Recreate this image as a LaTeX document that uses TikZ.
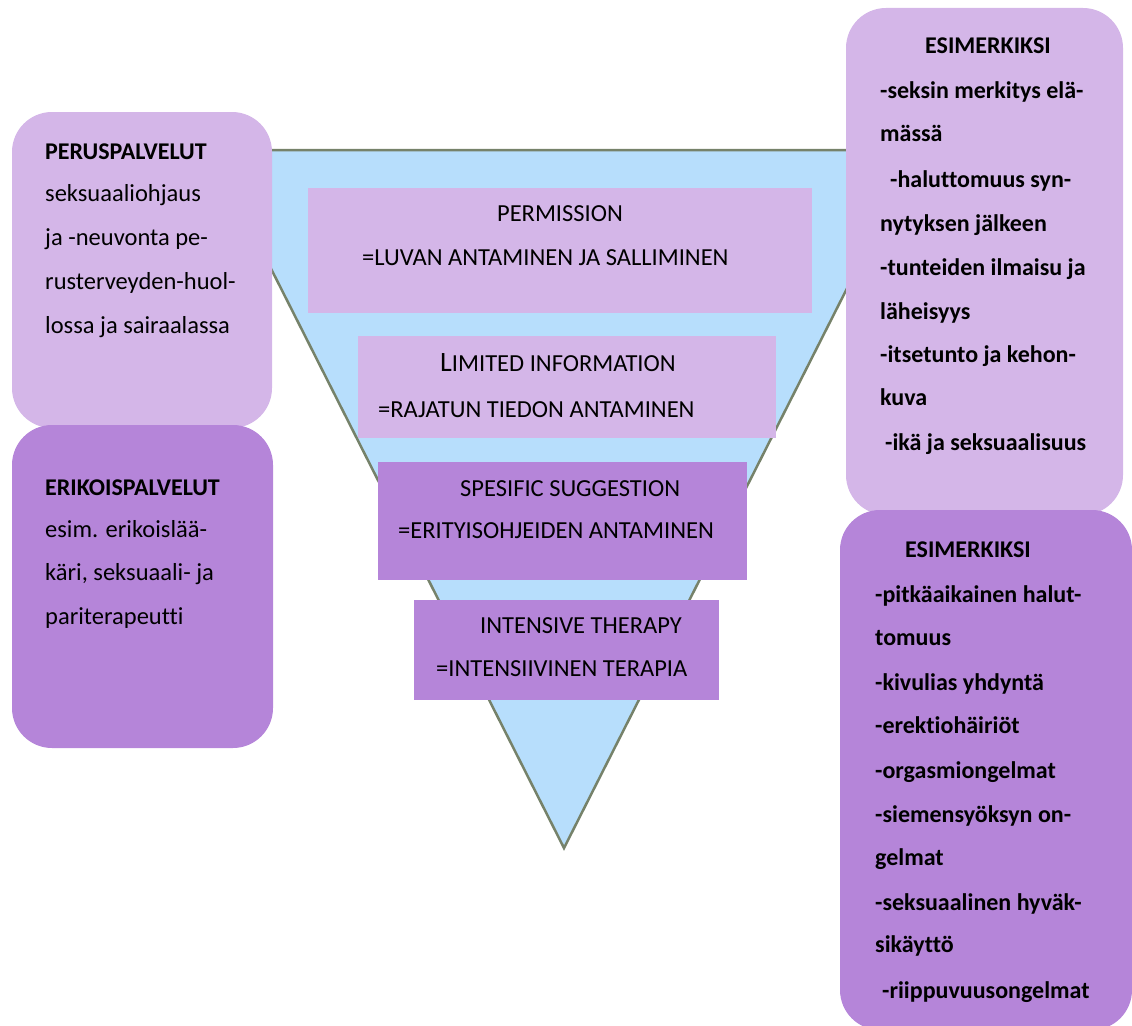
\documentclass[tikz,border=0pt]{standalone}
\usepackage{fontspec}
\setmainfont{Carlito}[Ligatures=NoCommon]
\definecolor{tri}{HTML}{B7DEFC}
\definecolor{triedge}{HTML}{76826A}
\definecolor{lav}{HTML}{D4B6E8}
\definecolor{purp}{HTML}{B585D9}
\tikzset{
  sidebox/.style={rounded corners=40pt, inner sep=0, draw=none},
  midbox/.style={inner sep=0, draw=none},
  txt/.style={anchor=base west, inner sep=0, font=\fontsize{24.5}{28}\selectfont},
  txtb/.style={anchor=base west, inner sep=0, font=\fontsize{24}{28}\selectfont\bfseries},
  ctxt/.style={anchor=base, inner sep=0, font=\fontsize{24.5}{28}\selectfont},
}
\begin{document}
\begin{tikzpicture}[x=1pt,y=-1pt]
\useasboundingbox (0,0) rectangle (1132,1025);
% funnel triangle
\coordinate (tl) at (211,150);
\coordinate (tr) at (917,150);
\coordinate (ap) at (564,848);
\draw[triedge, fill=tri, line width=2.5pt, line join=miter] (tl) -- (tr) -- (ap) -- cycle;
% side boxes
\node[sidebox, fill=lav, minimum width=260, minimum height=316] (peru) at (142,270) {};
\node[sidebox, fill=purp, minimum width=261, minimum height=323] (erik) at (142.5,586.5) {};
\node[sidebox, fill=lav, minimum width=277, minimum height=507] (esim1) at (984.5,261.5) {};
\node[sidebox, fill=purp, minimum width=292, minimum height=520] (esim2) at (986,770) {};
% middle boxes
\node[midbox, fill=lav, minimum width=504, minimum height=125] (perm) at (560,250.5) {};
\node[midbox, fill=lav, minimum width=418, minimum height=102] (lim) at (567,387) {};
\node[midbox, fill=purp, minimum width=369, minimum height=118] (spec) at (562.5,521) {};
\node[midbox, fill=purp, minimum width=305, minimum height=100] (inten) at (566.5,650) {};
% middle texts
\node[ctxt] (permA) at (560,221) {PERMISSION};
\node[txt] (permB) at (362,265) {=LUVAN ANTAMINEN JA SALLIMINEN};
\node[txt] (limA) at (440,371) {{\fontsize{28}{28}\selectfont L}IMITED INFORMATION};
\node[txt] (limB) at (378,417) {=RAJATUN TIEDON ANTAMINEN};
\node[txt] (specA) at (460,496) {SPESIFIC SUGGESTION};
\node[txt] (specB) at (398,538) {=ERITYISOHJEIDEN ANTAMINEN};
\node[txt] (intA) at (480,633) {INTENSIVE THERAPY};
\node[txt] (intB) at (436,676) {=INTENSIIVINEN TERAPIA};
% left top
\node[txtb] (p1) at (45,159) {PERUSPALVELUT};
\node[txt] (p2) at (45,201) {seksuaaliohjaus};
\node[txt] (p3) at (45,245) {ja -neuvonta pe-};
\node[txt] (p4) at (45,289) {rusterveyden-huol-};
\node[txt] (p5) at (45,333) {lossa ja sairaalassa};
% left bottom
\node[txtb] (e1) at (45,495) {ERIKOISPALVELUT};
\node[txt] (e2) at (45,537) {esim. erikoislää-};
\node[txt] (e3) at (45,580) {käri, seksuaali- ja};
\node[txt] (e4) at (45,624) {pariterapeutti};
% right top
\node[txtb] (r0) at (925,54) {ESIMERKIKSI};
\node[txtb] (r1) at (880,98) {-seksin merkitys elä-};
\node[txtb] (r2) at (880,141) {mässä};
\node[txtb] (r3) at (890,187) {-haluttomuus syn-};
\node[txtb] (r4) at (880,231) {nytyksen jälkeen};
\node[txtb] (r5) at (880,275) {-tunteiden ilmaisu ja};
\node[txtb] (r6) at (880,319) {läheisyys};
\node[txtb] (r7) at (880,362) {-itsetunto ja kehon-};
\node[txtb] (r8) at (880,405) {kuva};
\node[txtb] (r9) at (885,450) {-ikä ja seksuaalisuus};
% right bottom
\node[txtb] (s0) at (905,557) {ESIMERKIKSI};
\node[txtb] (s1) at (875,602) {-pitkäaikainen halut-};
\node[txtb] (s2) at (875,645) {tomuus};
\node[txtb] (s3) at (875,690) {-kivulias yhdyntä};
\node[txtb] (s4) at (875,733) {-erektiohäiriöt};
\node[txtb] (s5) at (875,778) {-orgasmiongelmat};
\node[txtb] (s6) at (875,822) {-siemensyöksyn on-};
\node[txtb] (s7) at (875,865) {gelmat};
\node[txtb] (s8) at (875,910) {-seksuaalinen hyväk-};
\node[txtb] (s9) at (875,952) {sikäyttö};
\node[txtb] (s10) at (882,998) {-riippuvuusongelmat};
\end{tikzpicture}
\end{document}
